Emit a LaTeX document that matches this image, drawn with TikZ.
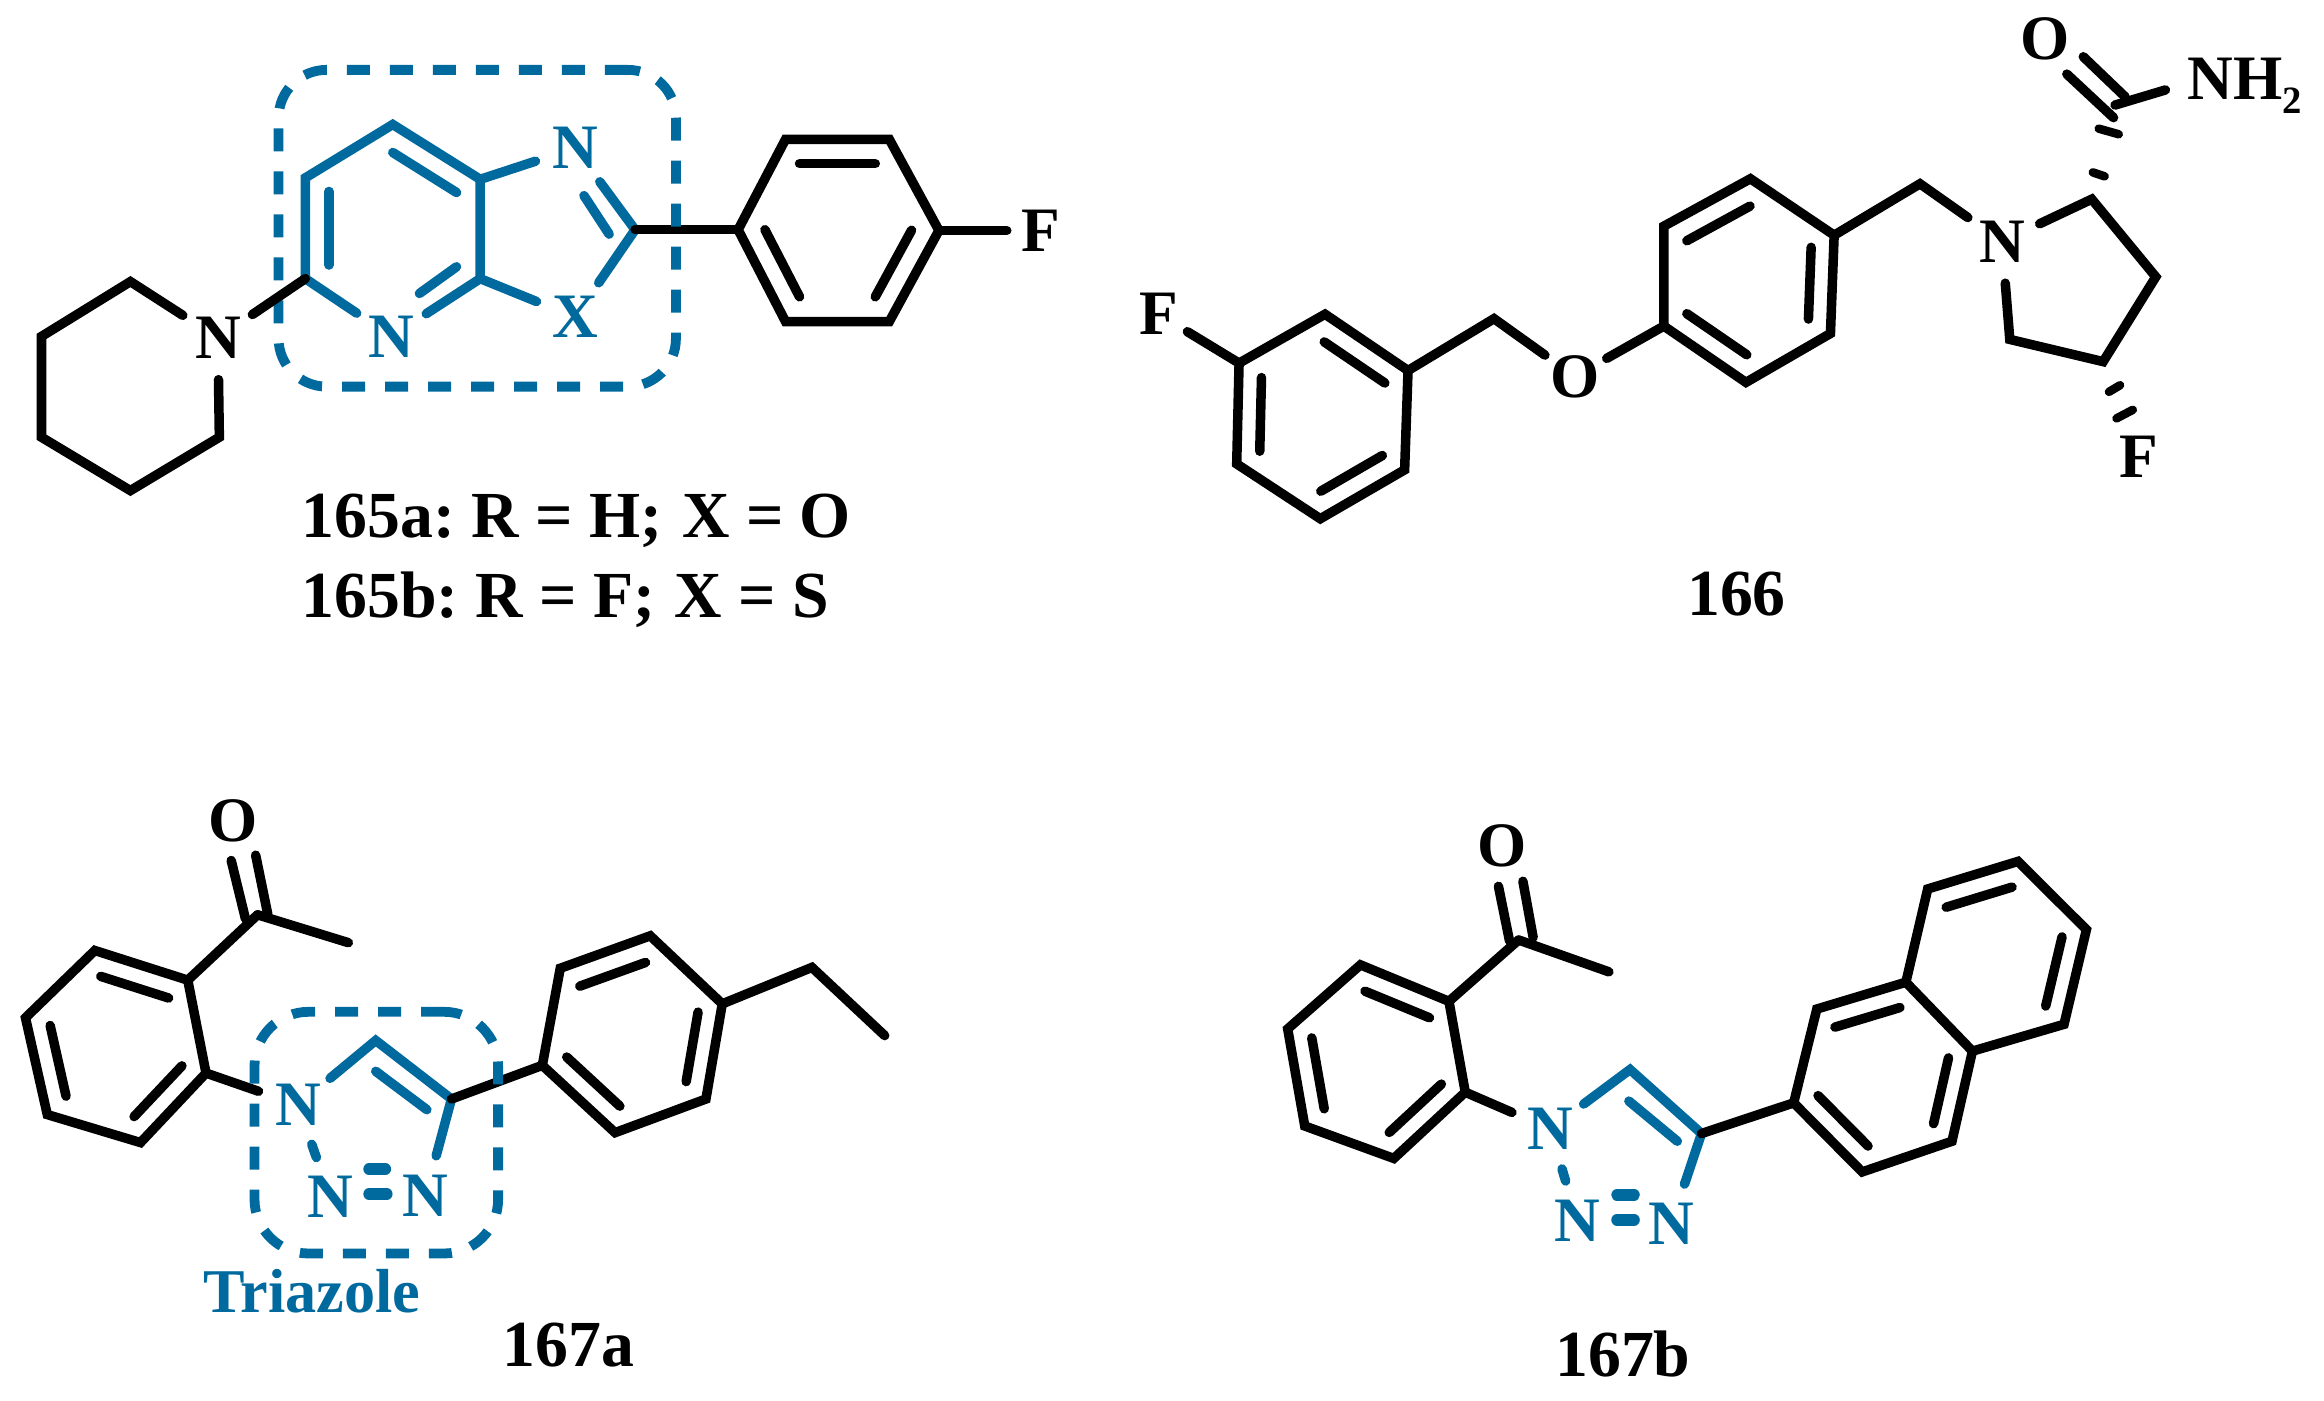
\documentclass[tikz,border=0pt]{standalone}
\usepackage{fontspec}
\setmainfont{Liberation Serif}
\usetikzlibrary{calc}
\definecolor{hlblue}{RGB}{0,106,158}
\tikzset{
  bond/.style={line width=0.095cm,line cap=round,line join=miter,black},
  hl/.style={bond,hlblue},
  atom/.style={circle,inner sep=0pt,minimum size=0.82cm,font=\fontsize{18}{18}\selectfont\bfseries},
  smallatom/.style={atom,minimum size=0.66cm},
  hlatom/.style={atom,text=hlblue},
  lab/.style={font=\fontsize{18.7}{18.7}\selectfont\bfseries,inner sep=0pt},
  hlbox/.style={draw=hlblue,line width=0.098cm,dash pattern=on 0.23cm off 0.2cm,inner sep=0pt},
  hash/.style={bond,line width=0.085cm},
  nn/.style={hl,line width=0.115cm}
}
\newcommand{\ib}[4][bond]{\draw[#1] ($(#2)!.27!(#4)$) -- ($(#3)!.27!(#4)$);}
\begin{document}
\begin{tikzpicture}[x=0.014821cm,y=-0.014821cm]
\useasboundingbox (0,0) rectangle (1568,944.6);
\fill[white] (0,0) rectangle (1568,944.6);
% ---------- 165 ----------
\coordinate (p1) at (88,190);
\coordinate (p2) at (28,227);
\coordinate (p3) at (28,295);
\coordinate (p4) at (88,331);
\coordinate (p5) at (148,295);
\node[atom] (pN) at (147,228) {N};
\draw[bond] (pN) -- (p1) -- (p2) -- (p3) -- (p4) -- (p5) -- (pN);
\coordinate (q1) at (206,188);
\coordinate (q2) at (206,120);
\coordinate (q3) at (265,84);
\coordinate (q4) at (324,121);
\coordinate (q5) at (324,188);
\coordinate (qc) at (265,154);
\node[hlatom] (qN) at (264,227) {N};
\node[hlatom] (qN2) at (388,100) {N};
\node[hlatom] (qX) at (388,214) {X};
\coordinate (q6) at (428.5,155);
\draw[hl] (qN) -- (q1) -- (q2) -- (q3) -- (q4) -- (q5) -- (qN);
\draw[hl] (q4) -- (qN2);
\draw[hl] (q5) -- (qX);
\draw[hl] (qN2) -- (q6) -- (qX);
\ib[hl]{q1}{q2}{qc}
\ib[hl]{q3}{q4}{qc}
\coordinate (qi1) at (283,198);
\coordinate (qi2) at (308,180);
\draw[hl] (qi1) -- (qi2);
\coordinate (qi3) at (394,132);
\coordinate (qi4) at (411,158);
\draw[hl] (qi3) -- (qi4);
\coordinate (r1) at (498,155);
\coordinate (r2) at (530,94);
\coordinate (r3) at (600,94);
\coordinate (r4) at (633.5,155.5);
\coordinate (r5) at (600,217);
\coordinate (r6) at (530,217);
\coordinate (rc) at (565,155);
\draw[bond] (r1) -- (r2) -- (r3) -- (r4) -- (r5) -- (r6) -- cycle;
\ib{r2}{r3}{rc}
\ib{r1}{r6}{rc}
\ib{r4}{r5}{rc}
\draw[bond] (q6) -- (r1);
\node[smallatom] (rF) at (702,155.5) {F};
\draw[bond] (r4) -- (rF);
\node[hlbox,rounded corners=0.48cm,minimum width=3.972cm,minimum height=3.166cm] (box1) at (322,154) {};
\draw[bond] (pN) -- (q1);
\node[lab,anchor=base west] (la) at (203,362.5) {165a:\hspace{-0.05cm} R = H;\hspace{0.03cm} X = O};
\node[lab,anchor=base west] (lb) at (203,416.5) {165b:\hspace{-0.05cm} R = F;\hspace{0.03cm} X = S};
% ---------- 166 ----------
\node[smallatom] (aF) at (781.7,212) {F};
\coordinate (a1) at (836,245);
\coordinate (a2) at (894,212);
\coordinate (a3) at (950,250);
\coordinate (a4) at (947.7,317);
\coordinate (a5) at (890.8,350);
\coordinate (a6) at (834.4,313);
\coordinate (ac) at (892,281.2);
\draw[bond] (a1) -- (a2) -- (a3) -- (a4) -- (a5) -- (a6) -- cycle;
\ib{a1}{a6}{ac}
\ib{a2}{a3}{ac}
\ib{a4}{a5}{ac}
\draw[bond] (aF) -- (a1);
\coordinate (a7) at (1008,215);
\node[smallatom,minimum size=0.72cm] (aO) at (1062.5,254) {O};
\draw[bond] (a3) -- (a7) -- (aO);
\coordinate (b1) at (1122.6,220);
\coordinate (b2) at (1122.6,152.6);
\coordinate (b3) at (1181,120.6);
\coordinate (b4) at (1237.5,158.7);
\coordinate (b5) at (1235,225);
\coordinate (b6) at (1178,258);
\coordinate (bc) at (1180,189);
\draw[bond] (b1) -- (b2) -- (b3) -- (b4) -- (b5) -- (b6) -- cycle;
\ib{b2}{b3}{bc}
\ib{b4}{b5}{bc}
\ib{b1}{b6}{bc}
\draw[bond] (aO) -- (b1);
\coordinate (b7) at (1295.4,124);
\node[atom] (cN) at (1350.7,163) {N};
\draw[bond] (b4) -- (b7) -- (cN);
\coordinate (c2) at (1411.3,134.4);
\coordinate (c3) at (1454.5,186.8);
\coordinate (c4) at (1419,244);
\coordinate (c5) at (1356,229);
\draw[bond] (cN) -- (c2) -- (c3) -- (c4) -- (c5) -- (cN);
\node[atom,minimum size=0.7cm] (dO) at (1379.5,26) {O};
\node[font=\fontsize{18}{18}\selectfont\bfseries,anchor=base west,inner sep=0pt] (dN) at (1475.6,67) {NH\raisebox{-0.14cm}{\fontsize{11}{11}\selectfont 2}};
\coordinate (d1) at (1405.6,38.3);
\coordinate (d2) at (1433.9,65.4);
\coordinate (d3) at (1394.5,50);
\coordinate (d4) at (1426,79.4);
\draw[bond] (d1) -- (d2);
\draw[bond] (d3) -- (d4);
\coordinate (d5) at (1427,70.9);
\coordinate (d6) at (1461,60.7);
\draw[bond] (d5) -- (d6);
\coordinate (h1a) at (1416,86.8);
\coordinate (h1b) at (1429.5,90.6);
\coordinate (h2a) at (1412,116.3);
\coordinate (h2b) at (1420,119);
\draw[hash] (h1a) -- (h1b);
\draw[hash] (h2a) -- (h2b);
\node[smallatom] (eF) at (1443,308.5) {F};
\coordinate (h3a) at (1422.9,264.4);
\coordinate (h3b) at (1430.4,259.9);
\coordinate (h4a) at (1428,282.3);
\coordinate (h4b) at (1439,276.5);
\draw[hash] (h3a) -- (h3b);
\draw[hash] (h4a) -- (h4b);
\node[lab] (lc) at (1171.6,400.7) {166};
% ---------- 167a ----------
\node[atom,minimum size=0.6cm] (fO) at (157.4,553.6) {O};
\coordinate (f1) at (156,580.6);
\coordinate (f2) at (165.6,619.9);
\coordinate (f3) at (172.5,577);
\coordinate (f4) at (180.7,617);
\draw[bond] (f1) -- (f2);
\draw[bond] (f3) -- (f4);
\coordinate (fC) at (173.8,617.2);
\coordinate (fM) at (235,636);
\draw[bond] (fM) -- (fC);
\coordinate (g1) at (126.7,661.3);
\coordinate (g2) at (64,641.3);
\coordinate (g3) at (17.2,686.7);
\coordinate (g4) at (31.9,752);
\coordinate (g5) at (94.8,770.9);
\coordinate (g6) at (139,724);
\coordinate (gc) at (78.8,706);
\draw[bond] (g1) -- (g2) -- (g3) -- (g4) -- (g5) -- (g6) -- cycle;
\ib{g1}{g2}{gc}
\ib{g3}{g4}{gc}
\ib{g5}{g6}{gc}
\draw[bond] (g1) -- (fC);
\node[hlatom] (tN1) at (201,745.5) {N};
\node[hlatom] (tN2) at (222.8,807.5) {N};
\node[hlatom] (tN3) at (287,807) {N};
\coordinate (t4) at (304.6,741.5);
\coordinate (t5) at (253.5,702);
\draw[bond] (g6) -- (tN1);
\draw[hl] (tN1) -- (t5) -- (t4) -- (tN3);
\draw[hl] (tN1) -- (tN2);
\coordinate (ti1) at (253.5,722.8);
\coordinate (ti2) at (288,748.7);
\draw[hl] (ti1) -- (ti2);
\coordinate (tn1) at (249,788.8);
\coordinate (tn2) at (260,788.8);
\coordinate (tn3) at (249,805.6);
\coordinate (tn4) at (261,805.6);
\draw[nn] (tn1) -- (tn2);
\draw[nn] (tn3) -- (tn4);
\coordinate (u1) at (365.9,718.8);
\coordinate (u2) at (378,653.3);
\coordinate (u3) at (438.7,631.4);
\coordinate (u4) at (487.3,677.3);
\coordinate (u5) at (476.3,741.5);
\coordinate (u6) at (415,764.2);
\coordinate (uc) at (426.9,698);
\draw[bond] (u1) -- (u2) -- (u3) -- (u4) -- (u5) -- (u6) -- cycle;
\ib{u2}{u3}{uc}
\ib{u4}{u5}{uc}
\ib{u6}{u1}{uc}
\draw[bond] (t4) -- (u1);
\coordinate (u7) at (547.8,652.7);
\coordinate (u8) at (596.9,698.7);
\draw[bond] (u4) -- (u7) -- (u8);
\node[hlbox,rounded corners=0.54cm,minimum width=2.435cm,minimum height=2.416cm] (box2) at (253.9,764.2) {};
\node[lab,text=hlblue,font=\fontsize{17.7}{17.7}\selectfont\bfseries] (tl) at (210.5,871) {Triazole};
\node[lab] (ld) at (383.5,907.2) {167a};
% ---------- 167b ----------
\node[atom,minimum size=0.6cm] (vO) at (1013.2,570.8) {O};
\coordinate (v1) at (1011,598);
\coordinate (v2) at (1018.5,635);
\coordinate (v3) at (1027.5,594.6);
\coordinate (v4) at (1034.4,632.4);
\draw[bond] (v1) -- (v2);
\draw[bond] (v3) -- (v4);
\coordinate (vC) at (1024.6,634.2);
\coordinate (vM) at (1085.5,655.7);
\draw[bond] (vM) -- (vC);
\coordinate (w1) at (977.6,675.6);
\coordinate (w2) at (917.9,651);
\coordinate (w3) at (868.8,694.2);
\coordinate (w4) at (880.3,759.7);
\coordinate (w5) at (940.4,781.6);
\coordinate (w6) at (988.6,736.9);
\coordinate (wc) at (929,716.7);
\draw[bond] (w1) -- (w2) -- (w3) -- (w4) -- (w5) -- (w6) -- cycle;
\ib{w1}{w2}{wc}
\ib{w3}{w4}{wc}
\ib{w5}{w6}{wc}
\draw[bond] (w1) -- (vC);
\node[hlatom] (sN1) at (1045.9,761.7) {N};
\node[hlatom] (sN2) at (1064.3,823.8) {N};
\node[hlatom] (sN3) at (1127.6,825.6) {N};
\coordinate (s4) at (1148,764.8);
\coordinate (s5) at (1099.8,721.6);
\draw[bond] (w6) -- (sN1);
\draw[hl] (sN1) -- (s5) -- (s4) -- (sN3);
\draw[hl] (sN1) -- (sN2);
\coordinate (si1) at (1099,742.9);
\coordinate (si2) at (1131.7,770);
\draw[hl] (si1) -- (si2);
\coordinate (sn1) at (1091,806.2);
\coordinate (sn2) at (1102.5,806.2);
\coordinate (sn3) at (1091,823);
\coordinate (sn4) at (1102.5,823);
\draw[nn] (sn1) -- (sn2);
\draw[nn] (sn3) -- (sn4);
\coordinate (m1) at (1210.2,744.1);
\coordinate (m2) at (1225.8,680.8);
\coordinate (m3) at (1285.9,662.7);
\coordinate (m4) at (1330.8,709.2);
\coordinate (m5) at (1317,770);
\coordinate (m6) at (1256.4,790.7);
\coordinate (mc) at (1271,726);
\draw[bond] (m1) -- (m2) -- (m3) -- (m4) -- (m5) -- (m6) -- cycle;
\ib{m2}{m3}{mc}
\ib{m4}{m5}{mc}
\ib{m6}{m1}{mc}
\draw[bond] (s4) -- (m1);
\coordinate (o2) at (1300.6,599.8);
\coordinate (o3) at (1361.5,581.2);
\coordinate (o4) at (1407.7,627.2);
\coordinate (o5) at (1392.6,691.1);
\coordinate (oc) at (1346.8,645.4);
\draw[bond] (m3) -- (o2) -- (o3) -- (o4) -- (o5) -- (m4);
\ib{o2}{o3}{oc}
\ib{o4}{o5}{oc}
\node[lab] (le) at (1095,913.6) {167b};
\end{tikzpicture}
\end{document}
